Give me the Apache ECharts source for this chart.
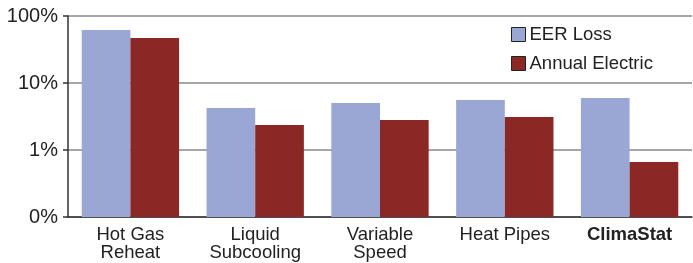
<!DOCTYPE html>
<html>
<head>
<meta charset="utf-8">
<script src="https://cdn.jsdelivr.net/npm/echarts@6/dist/echarts.min.js"></script>
<style>
  html, body { margin: 0; padding: 0; background: #fff; }
  #chart { width: 693px; height: 263px; }
</style>
</head>
<body>
<div id="chart"></div>
<script>
// 카테고리 / 값 (% 단위, 로그 축)
const categories = ['Hot Gas\nReheat', 'Liquid\nSubcooling', 'Variable\nSpeed', 'Heat Pipes', 'ClimaStat']
const eerLoss = [61.8, 4.24, 5.03, 5.57, 5.97]
const annualElectric = [47, 2.36, 2.8, 3.11, 0.66]
const yTicks = [0.1, 1, 10, 100]
const yTickLabels = ['0%', '1%', '10%', '100%']

const chart = echarts.init(document.getElementById('chart'))
const font = 'Liberation Sans, Arial, sans-serif'

chart.setOption({
  animation: false,
  grid: { left: 68, right: 1, top: 16, bottom: 46 },
  legend: {
    orient: 'vertical',
    left: 511,
    top: 25,
    padding: 0,
    itemWidth: 14,
    itemHeight: 14,
    itemGap: 10,
    icon: 'rect',
    itemStyle: { borderColor: '#222', borderWidth: 1 },
    textStyle: { fontFamily: font, fontSize: 18.5, lineHeight: 14, color: '#222', padding: [0, 0, 0, -1] },
    data: ['EER Loss', 'Annual Electric']
  },
  xAxis: {
    type: 'category',
    data: categories,
    axisLine: { lineStyle: { color: '#333', width: 1.5 } },
    axisTick: { show: false },
    axisLabel: {
      interval: 0,
      margin: 9,
      fontFamily: font,
      fontSize: 18.5,
      color: '#222',
      lineHeight: 18,
      formatter: v => (v === 'ClimaStat' ? '{b|' + v + '}' : v),
      rich: { b: { fontWeight: 'bold', fontFamily: font, fontSize: 18.5, color: '#222', lineHeight: 18 } }
    }
  },
  yAxis: {
    type: 'log',
    logBase: 10,
    min: 0.1,
    max: 100,
    startValue: 0.1,
    axisLine: { show: true, lineStyle: { color: '#333', width: 1.5 } },
    axisTick: { show: true, length: 5, inside: false, lineStyle: { color: '#333', width: 1.5 } },
    splitLine: { lineStyle: { color: '#888', width: 1.5 } },
    axisLabel: {
      margin: 10,
      fontFamily: font,
      fontSize: 20,
      color: '#222',
      formatter: v => {
        const i = yTicks.findIndex(t => Math.abs(t - v) < 1e-9)
        return i >= 0 ? yTickLabels[i] : ''
      }
    }
  },
  series: [
    {
      name: 'EER Loss',
      type: 'bar',
      barGap: '0%',
      barCategoryGap: '22%',
      itemStyle: { color: '#9AA6D3' },
      data: eerLoss
    },
    {
      name: 'Annual Electric',
      type: 'bar',
      itemStyle: { color: '#8B2825' },
      data: annualElectric
    }
  ]
})
</script>
</body>
</html>
